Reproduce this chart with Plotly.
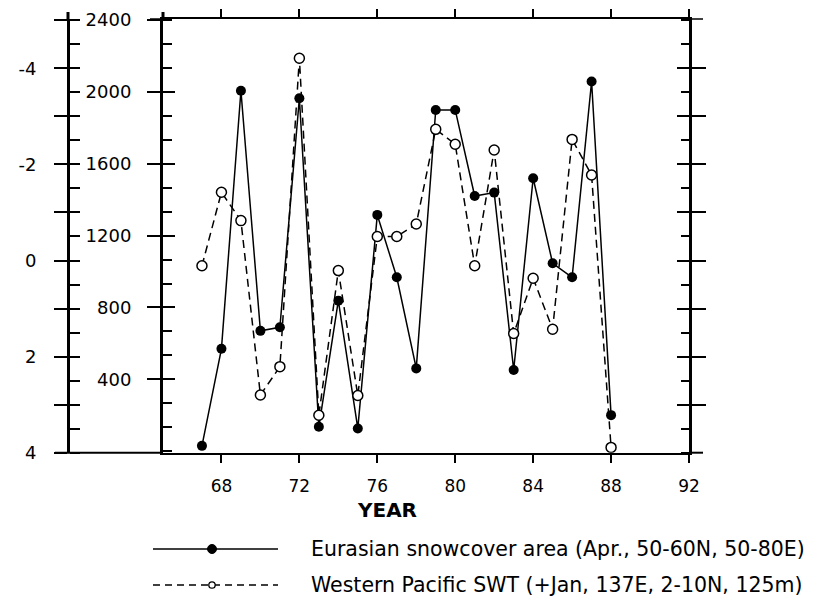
import plotly.graph_objects as go

W, H = 814, 607
OFF = 8  # page body margin offset of the rendered figure

# ---- data ----
years = [67, 68, 69, 70, 71, 72, 73, 74, 75, 76, 77, 78, 79, 80, 81, 82, 83, 84, 85, 86, 87, 88]
snowcover = [30, 570, 2006, 670, 690, 1964, 136, 838, 127, 1315, 968, 461, 1899, 1899,
             1420, 1439, 452, 1519, 1046, 968, 2057, 201]
swt = [0.11, -1.42, -0.83, 2.80, 2.21, -4.21, 3.22, 0.21, 2.81, -0.50, -0.50, -0.76,
       -2.73, -2.42, 0.11, -2.30, 1.52, 0.37, 1.43, -2.52, -1.78, 3.89]

x_ticks = [68, 72, 76, 80, 84, 88, 92]
snow_ticks = [400, 800, 1200, 1600, 2000, 2400]
swt_ticks = [-5, -4, -3, -2, -1, 0, 1, 2, 3, 4]
swt_labels = ["", "-4", "", "-2", "", "0", "", "2", "", "4"]
legend_labels = ["Eurasian snowcover area (Apr., 50-60N, 50-80E)",
                 "Western Pacific SWT (+Jan, 137E, 2-10N, 125m)"]

FONT = "DejaVu Sans"


def px(x):
    return (x - OFF) / W


def py(y):
    return 1 - (y - OFF) / H


# plot frame (window pixels)
L, R, T, B = 163, 689, 19, 452.7
OUTER = 68
xdom = [px(L), px(R)]
ydom = [py(B), py(T)]
snow_range = [-8, 2405]
swt_range = [4, -5.026]

fig = go.Figure()
fig.add_trace(go.Scatter(
    x=years, y=snowcover, mode="lines+markers", yaxis="y",
    line=dict(color="black", width=1.5),
    marker=dict(size=10, color="black"), name=legend_labels[0], showlegend=False))
fig.add_trace(go.Scatter(
    x=years, y=swt, mode="lines+markers", yaxis="y2",
    line=dict(color="black", width=1.5, dash="8px,5px"),
    marker=dict(size=10, color="white", line=dict(color="black", width=1.5)),
    name=legend_labels[1], showlegend=False))
# empty traces so helper axes are drawn
for ax in ["y3", "y4", "y5", "y6"]:
    fig.add_trace(go.Scatter(x=[], y=[], yaxis=ax, showlegend=False, hoverinfo="skip"))

tf = dict(family=FONT, size=18, color="black")
common = dict(showgrid=False, zeroline=False, color="black", tickcolor="black",
              tickwidth=1.5, automargin=False)

fig.update_layout(
    width=W, height=H, margin=dict(l=0, r=0, t=0, b=0, pad=0, autoexpand=False),
    paper_bgcolor="white", plot_bgcolor="white", showlegend=False,
    font=dict(family=FONT, color="black"),
    xaxis=dict(domain=xdom, range=[65, 92], tickvals=x_ticks,
               ticktext=[str(v) for v in x_ticks], ticks="outside", ticklen=8,
               showline=True, linewidth=2, linecolor="black", mirror="allticks",
               tickfont=dict(family=FONT, size=17, color="black"),
               ticklabelstandoff=9, **common),
    yaxis=dict(domain=ydom, range=snow_range, anchor="x", side="left",
               showline=True, linewidth=3, linecolor="black",
               ticks="outside", ticklen=13, tickvals=snow_ticks,
               ticktext=[str(v) for v in snow_ticks], tickfont=tf,
               ticklabelstandoff=12,
               minor=dict(ticks="inside", ticklen=9, dtick=400 / 3, tick0=0,
                          tickcolor="black", tickwidth=1.5),
               **common),
    yaxis3=dict(domain=ydom, range=snow_range, anchor="x", side="left",
                overlaying="y", showline=False, ticks="inside", ticklen=12,
                tickvals=snow_ticks, showticklabels=False, **common),
    yaxis2=dict(domain=ydom, range=swt_range, anchor="free", position=px(OUTER),
                side="left", overlaying="y", showline=True, linewidth=3,
                linecolor="black", ticks="outside", ticklen=13,
                tickvals=swt_ticks, ticktext=swt_labels, tickfont=tf,
                ticklabelstandoff=14,
                minor=dict(ticks="inside", ticklen=10, dtick=0.5, tick0=0,
                           tickcolor="black", tickwidth=1.5),
                **common),
    yaxis4=dict(domain=ydom, range=swt_range, anchor="free", position=px(OUTER),
                side="left", overlaying="y", showline=False, ticks="inside",
                ticklen=10, tickvals=swt_ticks, showticklabels=False, **common),
    yaxis5=dict(domain=ydom, range=swt_range, anchor="x", side="right",
                overlaying="y", showline=True, linewidth=3, linecolor="black",
                ticks="outside", ticklen=14, tickvals=swt_ticks[1:-1],
                showticklabels=False,
                minor=dict(ticks="inside", ticklen=8, dtick=0.5, tick0=0,
                           tickcolor="black", tickwidth=1.5),
                **common),
    yaxis6=dict(domain=ydom, range=swt_range, anchor="x", side="right",
                overlaying="y", showline=False, ticks="inside", ticklen=12,
                tickvals=swt_ticks[1:-1], showticklabels=False, **common),
)

shapes = []


def hline(x0, x1, y, w=2, dash=None):
    shapes.append(dict(type="line", xref="paper", yref="paper", x0=px(x0), x1=px(x1),
                       y0=py(y), y1=py(y), line=dict(color="black", width=w, dash=dash)))


def vline(x, y0, y1, w=3):
    shapes.append(dict(type="line", xref="paper", yref="paper", x0=px(x), x1=px(x),
                       y0=py(y0), y1=py(y1), line=dict(color="black", width=w)))


# frame extensions
hline(55, L, B)
hline(R, 703, B)
hline(150, L, T, w=1.5)
hline(R, 703, T, w=1.5)
vline(OUTER, 12, T)
vline(L, 12, T)

# legend keys
LY1, LY2 = 549, 585
hline(153, 278, LY1, w=1.5)
hline(153, 278, LY2, w=1.5, dash="7px,5px")
r1 = 4.5
shapes.append(dict(type="circle", xref="paper", yref="paper",
                   x0=px(212 - r1), x1=px(212 + r1), y0=py(LY1 + r1), y1=py(LY1 - r1),
                   fillcolor="black", line=dict(color="black", width=1)))
r2 = 3.2
shapes.append(dict(type="circle", xref="paper", yref="paper",
                   x0=px(212 - r2), x1=px(212 + r2), y0=py(LY2 + r2), y1=py(LY2 - r2),
                   fillcolor="white", line=dict(color="black", width=1.3)))
fig.update_layout(shapes=shapes)

LEG_FONT = dict(family=FONT, size=20.5, color="black")
annotations = [
    dict(text="<b>YEAR</b>", x=px(387), y=py(510), xref="paper", yref="paper",
         showarrow=False, xanchor="center", yanchor="middle",
         font=dict(family=FONT, size=20, color="black")),
    dict(text=legend_labels[0], x=px(309), y=py(LY1), xref="paper", yref="paper",
         showarrow=False, xanchor="left", yanchor="middle", font=LEG_FONT),
    dict(text=legend_labels[1], x=px(309), y=py(LY2), xref="paper", yref="paper",
         showarrow=False, xanchor="left", yanchor="middle", font=LEG_FONT),
]
fig.update_layout(annotations=annotations)

fig.write_html("out.html")
